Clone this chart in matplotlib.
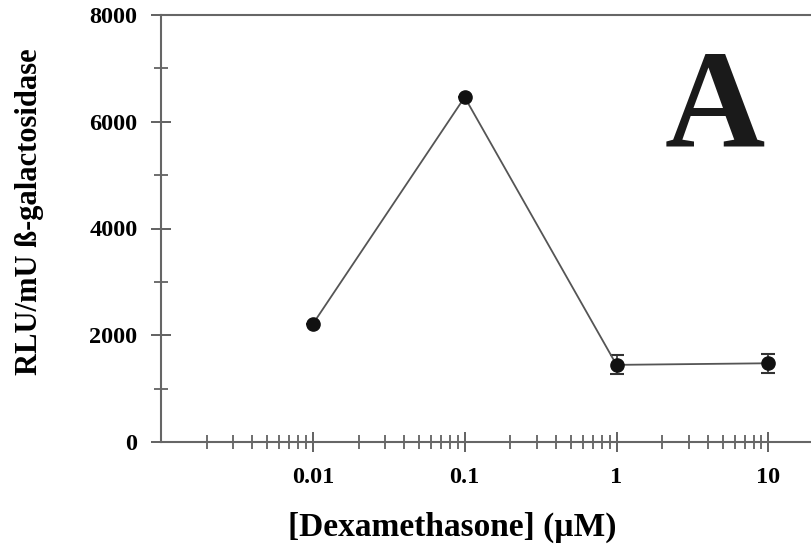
import numpy as np
import matplotlib
matplotlib.use("Agg")
import matplotlib.pyplot as plt
from matplotlib.ticker import LogLocator, FixedLocator, NullFormatter

# dexamethasone dose response
dose = [0.01, 0.1, 1, 10]
rlu = [2210, 6460, 1445, 1475]
err = [0, 0, 180, 175]
xtick_vals = [0.01, 0.1, 1, 10]
xtick_labels = ["0.01", "0.1", "1", "10"]
ytick_vals = [0, 2000, 4000, 6000, 8000]

plt.rcParams["font.family"] = ["Liberation Serif", "DejaVu Serif"]
plt.rcParams["font.weight"] = "bold"

fig = plt.figure(figsize=(8.11, 5.44), dpi=100)
ax = fig.add_axes([161/811, 1 - 442/544, 1 - 161/811, (442 - 15)/544])

ax.errorbar(dose, rlu, yerr=err, color="#555555", lw=1.3, marker="o",
            ms=9.5, mfc="#111111", mec="#111111", ecolor="#333333",
            elinewidth=1.2, capsize=5, capthick=1.5, zorder=3)

ax.set_xscale("log")
ax.set_xlim(0.001, 10**1.281)
ax.set_ylim(0, 8000)

ax.xaxis.set_major_locator(FixedLocator(xtick_vals))
ax.set_xticklabels(xtick_labels)
ax.xaxis.set_minor_locator(LogLocator(base=10, subs=np.arange(2, 10), numticks=20))
ax.xaxis.set_minor_formatter(NullFormatter())
ax.set_yticks(ytick_vals)
ax.set_yticks([1000, 3000, 5000, 7000], minor=True)

for s in ["left", "bottom", "top"]:
    ax.spines[s].set_color("#666666")
    ax.spines[s].set_linewidth(1.5)
ax.spines["right"].set_visible(False)

ax.tick_params(which="major", direction="inout", length=14, width=1.3,
               color="#555555", labelsize=17.5, pad=10)
ax.tick_params(which="minor", direction="inout", length=10, width=1.2,
               color="#555555")
ax.tick_params(axis="x", which="major", pad=11)

fig.text(452/811, 1 - 527/544, "[Dexamethasone] (µM)", ha="center",
         va="center", fontsize=24, fontweight="bold")
fig.text(30/811, 1 - 212/544, "RLU/mU ß-galactosidase", ha="center",
         va="center", rotation=90, fontsize=22, fontweight="bold")
fig.text(715/811, 1 - 147/544, "A", ha="center", va="baseline",
         fontsize=100, fontweight="bold", color="#1a1a1a")

fig.savefig("out.png", dpi=100)
